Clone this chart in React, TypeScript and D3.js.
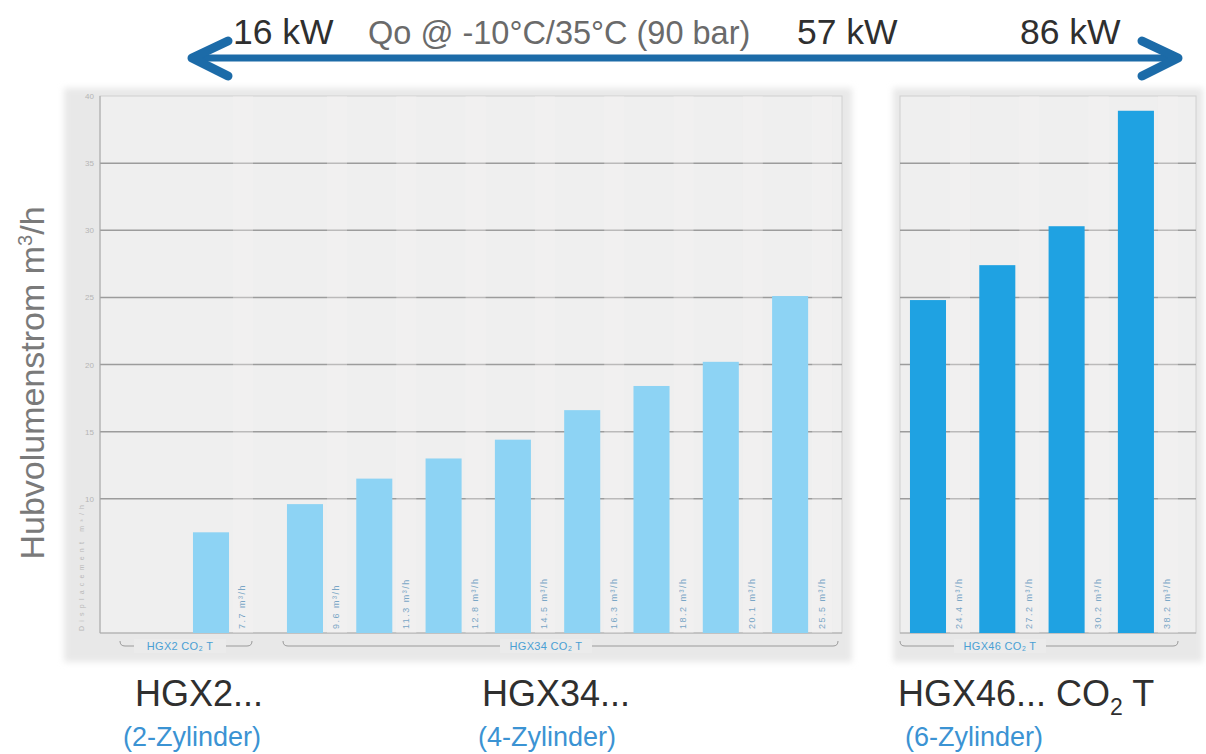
import React from "react";
import * as d3 from "d3";

// ---- data ----
const yTicks = [10, 15, 20, 25, 30, 35, 40];
const hgx2Models = ["HGX2-a"];
const hgx2Values = [7.5];
const hgx2Labels = ["7.7 m³/h"];
const hgx34Models = ["34-a", "34-b", "34-c", "34-d", "34-e", "34-f", "34-g", "34-h"];
const hgx34Values = [9.6, 11.5, 13.0, 14.4, 16.6, 18.4, 20.2, 25.1];
const hgx34Labels = ["9.6 m³/h", "11.3 m³/h", "12.8 m³/h", "14.5 m³/h", "16.3 m³/h", "18.2 m³/h", "20.1 m³/h", "25.5 m³/h"];
const hgx46Models = ["46-a", "46-b", "46-c", "46-d"];
const hgx46Values = [24.8, 27.4, 30.3, 38.9];
const hgx46Labels = ["24.4 m³/h", "27.2 m³/h", "30.2 m³/h", "38.2 m³/h"];
const groupTags = ["HGX2 CO₂ T", "HGX34 CO₂ T", "HGX46 CO₂ T"];
const capacityLabels = ["16 kW", "57 kW", "86 kW"];
const conditionLabel = "Qo @ -10°C/35°C (90 bar)";
const axisSmallTitle = "Displacement m³/h";

const W = 1206;
const H = 754;
const FONT = "'Liberation Sans', Arial, Helvetica, sans-serif";
const LIGHT = "#8dd3f4";
const DARK = "#1fa2e2";
const ARROW = "#1c6ba8";
const TAGBLUE = "#4a9fd4";

const y = d3.scaleLinear().domain([0, 40]).range([633, 96]);
const pad = 0.48;
const x2 = d3.scaleBand<string>().domain(hgx2Models).range([159.7, 262.3]).padding(pad);
const x34 = d3.scaleBand<string>().domain(hgx34Models).range([253.7, 841.4]).padding(pad);
const x46 = d3.scaleBand<string>().domain(hgx46Models).range([876.7, 1187.2]).padding(pad);

function Bars({ models, values, labels, scale, color }: any) {
  return (
    <g>
      {models.map((m: string, i: number) => {
        const bx = scale(m) as number;
        const bw = scale.bandwidth();
        const lx = bx + bw + 14;
        return (
          <g key={m}>
            <rect x={bx + bw + 4} y={y(40)} width={20} height={y(0) - y(40)} fill="#f5f3f3" opacity={0.35} />
            <rect x={bx} y={y(values[i])} width={bw} height={y(0) - y(values[i])} fill={color} />
            <text
              transform={`translate(${lx},${y(0) - 4}) rotate(-90)`}
              fontSize={9}
              letterSpacing={1.5}
              fill="#7aa6c6"
              fontFamily={FONT}
              dominantBaseline="middle"
            >
              {labels[i]}
            </text>
          </g>
        );
      })}
    </g>
  );
}

function Bracket({ x0, x1, label, cx }: any) {
  const yy = 646;
  return (
    <g>
      <path d={`M${x0},${yy - 5} Q${x0},${yy} ${x0 + 5},${yy} L${x1 - 5},${yy} Q${x1},${yy} ${x1},${yy - 5}`} fill="none" stroke="#9a9a9a" strokeWidth={1} />
      <rect x={cx - 46} y={yy - 7} width={92} height={14} fill="#ebebeb" />
      <text x={cx} y={yy + 4} textAnchor="middle" fontSize={11} letterSpacing={0.3} fill={TAGBLUE} fontFamily={FONT}>
        {label}
      </text>
    </g>
  );
}

export default function App() {
  const leftPlot = { x0: 100, x1: 842 };
  const rightPlot = { x0: 900, x1: 1196 };
  return (
    <svg width={W} height={H} style={{ position: "absolute", left: 0, top: 0, background: "#fff" }} fontFamily={FONT}>
      <defs>
        <filter id="soft" x="-5%" y="-5%" width="110%" height="110%">
          <feGaussianBlur stdDeviation="3" />
        </filter>
      </defs>

      {/* panels */}
      <rect x={64} y={88} width={788} height={574} fill="#e8e8e8" filter="url(#soft)" />
      <rect x={893} y={88} width={310} height={574} fill="#e8e8e8" filter="url(#soft)" />
      <rect x={leftPlot.x0} y={y(40)} width={leftPlot.x1 - leftPlot.x0} height={y(0) - y(40)} fill="#efefef" stroke="#d0d0d0" />
      <rect x={rightPlot.x0} y={y(40)} width={rightPlot.x1 - rightPlot.x0} height={y(0) - y(40)} fill="#efefef" stroke="#d0d0d0" />

      {/* grid */}
      {yTicks.slice(0, -1).map((t) => (
        <g key={t}>
          <line x1={leftPlot.x0} x2={leftPlot.x1} y1={y(t)} y2={y(t)} stroke="#9c9c9c" strokeWidth={1.5} />
          <line x1={rightPlot.x0} x2={rightPlot.x1} y1={y(t)} y2={y(t)} stroke="#9c9c9c" strokeWidth={1.5} />
        </g>
      ))}
      {yTicks.map((t) => (
        <text key={t} x={94} y={y(t) + 3} textAnchor="end" fontSize={8} fill="#b5b5b5">
          {t}
        </text>
      ))}
      <line x1={leftPlot.x0} x2={leftPlot.x0} y1={y(40)} y2={y(0)} stroke="#a8a8a8" />
      <line x1={leftPlot.x0} x2={leftPlot.x1} y1={y(0)} y2={y(0)} stroke="#a8a8a8" />
      <line x1={rightPlot.x0} x2={rightPlot.x1} y1={y(0)} y2={y(0)} stroke="#a8a8a8" />
      <text transform={`translate(84,${y(0) - 2}) rotate(-90)`} fontSize={7} fill="#b8b8b8" textLength={126}>
        {axisSmallTitle}
      </text>

      <Bars models={hgx2Models} values={hgx2Values} labels={hgx2Labels} scale={x2} color={LIGHT} />
      <Bars models={hgx34Models} values={hgx34Values} labels={hgx34Labels} scale={x34} color={LIGHT} />
      <Bars models={hgx46Models} values={hgx46Values} labels={hgx46Labels} scale={x46} color={DARK} />

      <Bracket x0={120} x1={252} label={groupTags[0]} cx={180} />
      <Bracket x0={283} x1={838} label={groupTags[1]} cx={546} />
      <Bracket x0={900} x1={1178} label={groupTags[2]} cx={1000} />

      {/* y title */}
      <text transform="translate(44,383) rotate(-90)" textAnchor="middle" fontSize={34} fill="#7a7a7a">
        Hubvolumenstrom m<tspan dy={-12} fontSize={20}>3</tspan><tspan dy={12}>/h</tspan>
      </text>

      {/* arrow */}
      <line x1={196} x2={1174} y1={58} y2={58} stroke={ARROW} strokeWidth={7} />
      <path d="M228,41 L192,58 L228,76" fill="none" stroke={ARROW} strokeWidth={9} strokeLinecap="round" strokeLinejoin="round" />
      <path d="M1142,41 L1178,58 L1142,76" fill="none" stroke={ARROW} strokeWidth={9} strokeLinecap="round" strokeLinejoin="round" />
      <text x={233} y={44} fontSize={35.5} fill="#2f2f2f">{capacityLabels[0]}</text>
      <text x={368} y={44} fontSize={32.5} fill="#6a6a6a">{conditionLabel}</text>
      <text x={797} y={44} fontSize={35.5} fill="#2f2f2f">{capacityLabels[1]}</text>
      <text x={1020} y={44} fontSize={35.5} fill="#2f2f2f">{capacityLabels[2]}</text>

      {/* bottom labels */}
      <text x={135} y={706} fontSize={36} fill="#2f2f2f">HGX2...</text>
      <text x={482} y={706} fontSize={36} fill="#2f2f2f">HGX34...</text>
      <text x={898} y={706} fontSize={36} fill="#2f2f2f">
        HGX46... CO<tspan dy={9} fontSize={23}>2</tspan><tspan dy={-9}> T</tspan>
      </text>
      <text x={123} y={746} fontSize={27} fill="#3b93d3">(2-Zylinder)</text>
      <text x={478} y={746} fontSize={27} fill="#3b93d3">(4-Zylinder)</text>
      <text x={905} y={746} fontSize={27} fill="#3b93d3">(6-Zylinder)</text>
    </svg>
  );
}
